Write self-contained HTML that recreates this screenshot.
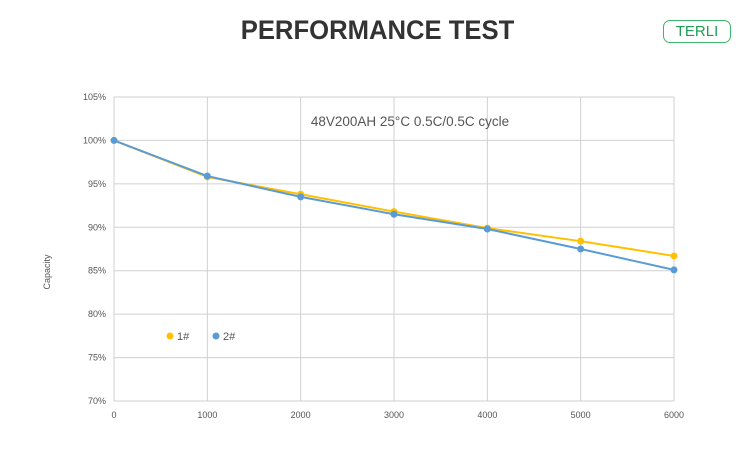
<!DOCTYPE html>
<html><head><meta charset="utf-8"><style>
body{margin:0;background:#fff;width:750px;height:469px;overflow:hidden;font-family:"Liberation Sans",sans-serif}
#title{position:absolute;left:0;width:755px;top:15px;text-align:center;font-size:27px;font-weight:bold;color:#333;transform:scaleX(0.95);transform-origin:378px 0}
#badge{position:absolute;left:663px;top:20px;width:66px;height:21px;border:1px solid #3cb56e;border-radius:7px;color:#1e9e55;font-size:15px;text-align:center;line-height:21px}
svg{position:absolute;left:0;top:0}
</style></head><body>
<div id="title">PERFORMANCE TEST</div>
<div id="badge">TERLI</div>
<svg id="chart" width="750" height="469"></svg>
<script>
const cycles=[0,1000,2000,3000,4000,5000,6000];
const series1=[100,95.8,93.8,91.8,89.9,88.4,86.7];
const series2=[100,95.9,93.5,91.5,89.8,87.5,85.1];
const yTicks=[70,75,80,85,90,95,100,105];
const xTicks=[0,1000,2000,3000,4000,5000,6000];
const X0=114,X1=674,Y0=401,Y1=97;
const sx=v=>X0+(v-0)/6000*(X1-X0);
const sy=v=>Y0-(v-70)/35*(Y0-Y1);
const svg=document.getElementById('chart');
const NS='http://www.w3.org/2000/svg';
function mk(t,a,txt){const e=document.createElementNS(NS,t);for(const k in a)e.setAttribute(k,a[k]);if(txt!=null)e.textContent=txt;svg.appendChild(e);return e;}
yTicks.forEach(v=>{
 const l=mk('line',{x1:X0,x2:X1,y1:sy(v),y2:sy(v),stroke:'#d0d0d0','stroke-width':1});
 
 
 const t=mk('text',{x:X0-8,y:sy(v)+3,'text-anchor':'end','font-size':9,fill:'#555'},v+'%');
 
 
});
xTicks.forEach(v=>{
 const l=mk('line',{x1:sx(v),x2:sx(v),y1:Y1,y2:Y0,stroke:'#d0d0d0','stroke-width':1});
 
 
 const t=mk('text',{x:sx(v),y:Y0+17,'text-anchor':'middle','font-size':9,fill:'#555'},v);
 
 
});
const yt=mk('text',{x:50,y:272,'text-anchor':'middle','font-size':9,fill:'#555',transform:'rotate(-90 50 272)'},'Capacity');


const st=mk('text',{x:410,y:126,'text-anchor':'middle','font-size':13.5,fill:'#555'},'48V200AH 25°C 0.5C/0.5C cycle');


function drawSeries(vals,color,name){
 const pts=vals.map((v,i)=>sx(cycles[i])+','+sy(v)).join(' ');
 const pl=mk('polyline',{points:pts,fill:'none',stroke:color,'stroke-width':2});
 
 
 vals.forEach((v,i)=>{
  const c=mk('circle',{cx:sx(cycles[i]),cy:sy(v),r:3.5,fill:color});
  
  
 });
}
drawSeries(series1,'#ffc000','series-1');
drawSeries(series2,'#5b9bd5','series-2');
[[170,'#ffc000','1#'],[216,'#5b9bd5','2#']].forEach(d=>{
 const c=mk('circle',{cx:d[0],cy:336,r:3.5,fill:d[1]});
 
 
 const t=mk('text',{x:d[0]+7,y:340,'font-size':11,fill:'#555'},d[2]);
 
 
});
</script>
</body></html>
